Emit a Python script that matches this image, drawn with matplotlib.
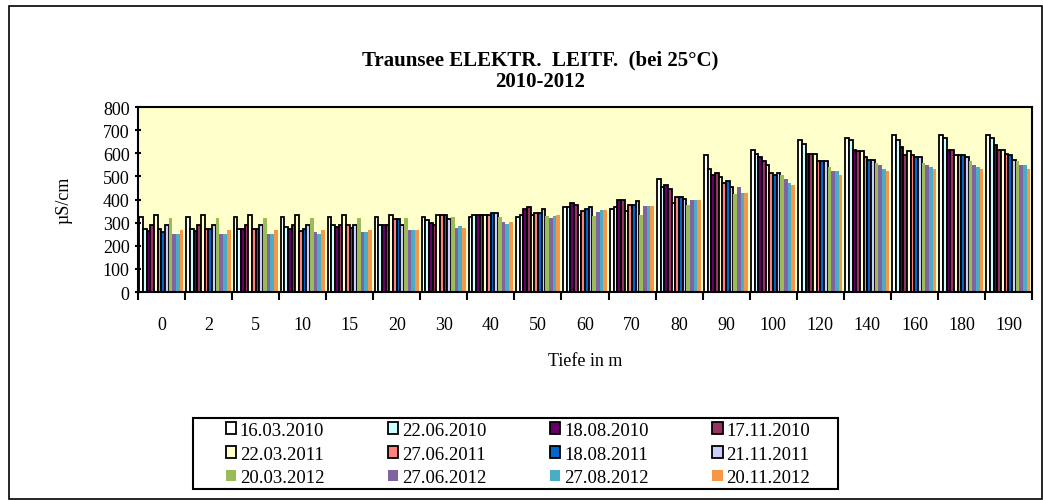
import numpy as np
import matplotlib.pyplot as plt
from matplotlib.patches import Rectangle

plt.rcParams['font.family'] = ['Liberation Serif', 'DejaVu Serif']

tiefen = ['0', '2', '5', '10', '15', '20', '30', '40', '50', '60', '70', '80',
          '90', '100', '120', '140', '160', '180', '190']

termine = ['16.03.2010', '22.06.2010', '18.08.2010', '17.11.2010',
           '22.03.2011', '27.06.2011', '18.08.2011', '21.11.2011',
           '20.03.2012', '27.06.2012', '27.08.2012', '20.11.2012']

farben = ['#ffffff', '#ccffff', '#660066', '#993366',
          '#ffffcc', '#ff8080', '#0066cc', '#ccccff',
          '#9bbb59', '#8064a2', '#4bacc6', '#f79646']

# Leitfaehigkeit je Termin (Reihenfolge wie tiefen)
w_16_03_2010 = [325, 325, 325, 325, 325, 325, 325, 325, 325, 367, 358, 487, 591, 616, 659, 668, 677, 677, 677]
w_22_06_2010 = [272, 272, 272, 282, 290, 290, 310, 333, 333, 367, 367, 453, 530, 599, 642, 659, 659, 668, 668]
w_18_08_2010 = [264, 264, 272, 272, 281, 290, 300, 333, 358, 384, 398, 462, 505, 582, 599, 616, 625, 616, 634]
w_17_11_2010 = [290, 290, 290, 290, 290, 290, 290, 333, 367, 376, 398, 444, 513, 565, 599, 608, 591, 616, 616]
w_22_03_2011 = [333, 333, 333, 333, 335, 333, 333, 333, 333, 333, 350, 384, 496, 548, 599, 608, 608, 591, 616]
w_27_06_2011 = [272, 272, 272, 264, 290, 315, 333, 333, 341, 350, 376, 410, 470, 513, 565, 582, 591, 591, 599]
w_18_08_2011 = [261, 272, 272, 272, 278, 315, 333, 341, 341, 358, 376, 410, 479, 505, 565, 573, 582, 591, 591]
w_21_11_2011 = [290, 290, 290, 290, 290, 290, 315, 341, 358, 367, 393, 401, 453, 513, 565, 573, 582, 582, 573]
w_20_03_2012 = [318, 318, 318, 318, 318, 318, 325, 325, 327, 327, 335, 378, 422, 507, 542, 559, 559, 568, 568]
w_27_06_2012 = [249, 249, 249, 258, 258, 267, 275, 301, 318, 344, 370, 396, 456, 490, 525, 550, 550, 550, 550]
w_27_08_2012 = [249, 249, 249, 249, 258, 267, 284, 292, 327, 353, 370, 396, 430, 473, 525, 533, 542, 542, 550]
w_20_11_2012 = [267, 267, 267, 267, 267, 267, 275, 301, 335, 353, 370, 396, 430, 464, 507, 525, 533, 533, 533]

werte = [w_16_03_2010, w_22_06_2010, w_18_08_2010, w_17_11_2010,
         w_22_03_2011, w_27_06_2011, w_18_08_2011, w_21_11_2011,
         w_20_03_2012, w_27_06_2012, w_27_08_2012, w_20_11_2012]

fig = plt.figure(figsize=(10.43, 5.02), dpi=100)
ax = fig.add_axes([0.1323, 0.4163, 0.8572, 0.3685])
ax.set_facecolor('#ffffcc')

x = np.arange(len(tiefen))
breite = 0.078
handles = []
for i, (name, vals) in enumerate(zip(termine, werte)):
    pos = x - 0.5 + 0.03 + breite * (i + 0.5)
    if i < 8:
        h = ax.bar(pos, vals, breite, color=farben[i], edgecolor='black', linewidth=1.3, label=name)
    else:
        h = ax.bar(pos, vals, breite, color=farben[i], linewidth=0, label=name)
    handles.append(h)

ax.set_xlim(-0.5, len(tiefen) - 0.5)
ax.set_ylim(0, 800)
ax.set_yticks(range(0, 801, 100))
ax.set_xticks(x)
ax.set_xticklabels(tiefen)
ax.set_xticks(np.arange(-0.5, len(tiefen), 1), minor=True)
ax.tick_params(axis='x', which='major', length=0, pad=17, labelsize=13)
ax.tick_params(axis='x', which='minor', length=6, width=1.5, direction='out')
ax.tick_params(axis='y', length=5, width=1.5, direction='inout', labelsize=13)
for s in ax.spines.values():
    s.set_linewidth(1.5)

ax.set_ylabel('µS/cm', fontsize=13, labelpad=22)
ax.set_xlabel('Tiefe in m', fontsize=13, labelpad=14)

fig.text(0.518, 0.879, 'Traunsee ELEKTR.  LEITF.  (bei 25°C)', ha='center', va='center',
         fontsize=15, fontweight='bold')
fig.text(0.518, 0.836, '2010-2012', ha='center', va='center', fontsize=15, fontweight='bold')

# Legende zeilenweise, Rahmen separat
reihenfolge = [0, 4, 8, 1, 5, 9, 2, 6, 10, 3, 7, 11]
leg = fig.legend([handles[k] for k in reihenfolge], [termine[k] for k in reihenfolge],
                 ncol=4, loc='center', bbox_to_anchor=(0.4966, 0.0936),
                 frameon=False, fontsize=13.5, handlelength=0.55,
                 handleheight=0.55, handletextpad=0.2, columnspacing=3.4,
                 labelspacing=0.36)
fig.patches.append(Rectangle((0.185, 0.0239), 0.6185, 0.1414, transform=fig.transFigure,
                             fill=False, edgecolor='black', linewidth=1.5))

fig.patches.append(Rectangle((0.0086, 0.004), 0.9904, 0.982, transform=fig.transFigure,
                             fill=False, edgecolor='black', linewidth=1.2))

fig.savefig('out.png', dpi=100)
